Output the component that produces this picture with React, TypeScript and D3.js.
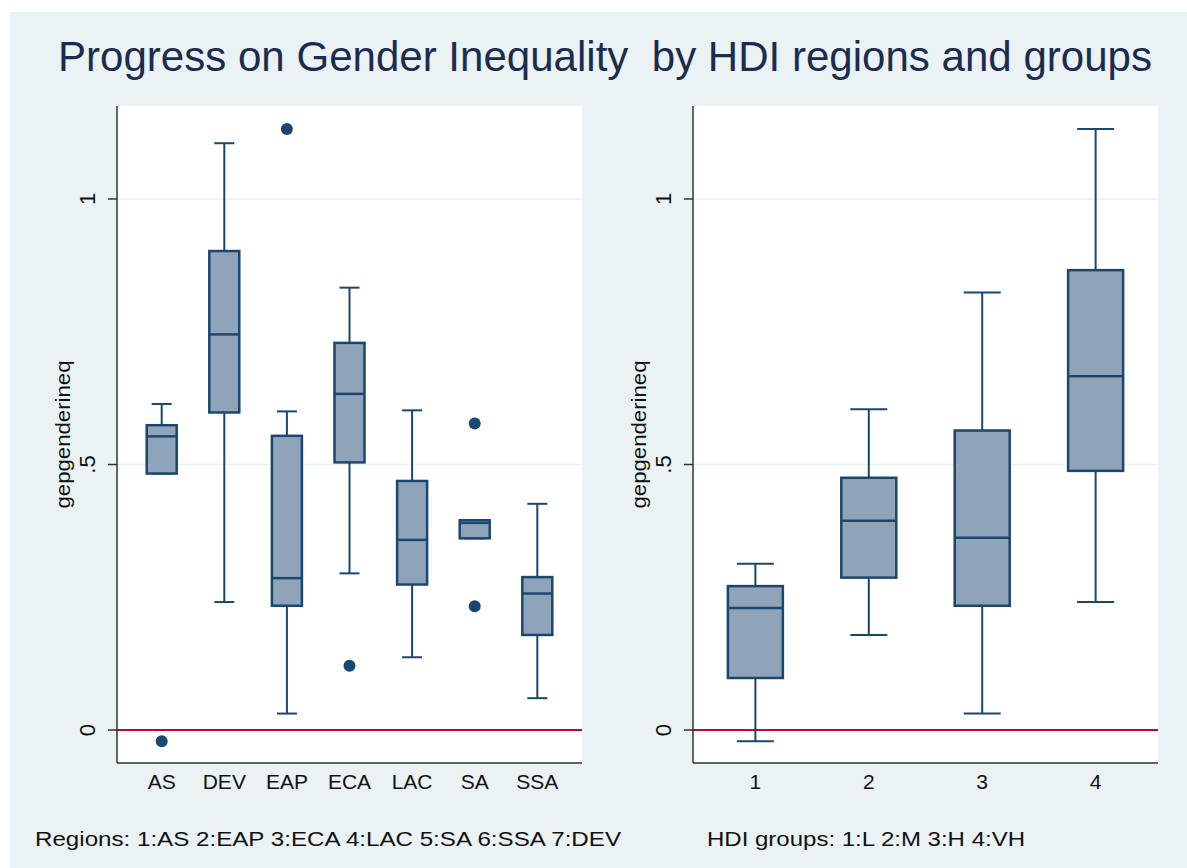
import React from "react";
import * as d3 from "d3";

const regions = ["AS", "DEV", "EAP", "ECA", "LAC", "SA", "SSA"];
const regionLowerWhisker = [0.483, 0.241, 0.031, 0.295, 0.137, 0.361, 0.06];
const regionQ1 = [0.483, 0.598, 0.234, 0.504, 0.274, 0.361, 0.179];
const regionMedian = [0.553, 0.745, 0.286, 0.633, 0.358, 0.39, 0.257];
const regionQ3 = [0.574, 0.902, 0.554, 0.729, 0.469, 0.395, 0.288];
const regionUpperWhisker = [0.614, 1.105, 0.6, 0.833, 0.602, 0.395, 0.426];
const regionOutliers = [[-0.021], [], [1.132], [0.121], [], [0.577, 0.233], []];

const hdiGroups = ["1", "2", "3", "4"];
const hdiLowerWhisker = [-0.021, 0.179, 0.031, 0.241];
const hdiQ1 = [0.098, 0.287, 0.234, 0.488];
const hdiMedian = [0.23, 0.394, 0.362, 0.666];
const hdiQ3 = [0.271, 0.475, 0.564, 0.866];
const hdiUpperWhisker = [0.313, 0.604, 0.824, 1.132];
const hdiOutliers: number[][] = [[], [], [], []];

const yTicks = [0, 0.5, 1];
const yTickLabels = ["0", ".5", "1"];

const titleText = "Progress on Gender Inequality  by HDI regions and groups";
const yTitle = "gepgenderineq";
const noteLeft = "Regions: 1:AS 2:EAP 3:ECA 4:LAC 5:SA 6:SSA 7:DEV";
const noteRight = "HDI groups: 1:L 2:M 3:H 4:VH";

const FONT = "Arial, 'Liberation Sans', Helvetica, sans-serif";
const BG = "#eaf2f3";
const BOX_FILL = "#8fa4b8";
const NAVY = "#1a476f";
const RED = "#c10534";

type PanelProps = {
  x0: number;
  x1: number;
  cats: string[];
  lw: number[];
  q1: number[];
  med: number[];
  q3: number[];
  uw: number[];
  out: number[][];
  padding: number;
  boxW: number;
  capW: number;
};

const yScale = d3.scaleLinear().domain([-0.0621, 1.1751]).range([763, 106]);

function Panel(p: PanelProps) {
  const top = 106;
  const bottom = 763;
  const x = d3.scalePoint<string>().domain(p.cats).range([p.x0, p.x1]).padding(p.padding);
  const y = yScale;
  return (
    <g>
      <rect x={p.x0} y={top} width={p.x1 - p.x0} height={bottom - top} fill="#ffffff" />
      {yTicks.map((t, i) => (
        <g key={"t" + i}>
          {t !== 0 && (
            <line x1={p.x0} x2={p.x1} y1={y(t)} y2={y(t)} stroke={BG} strokeWidth={1.6} />
          )}
          <line x1={p.x0 - 9} x2={p.x0} y1={y(t)} y2={y(t)} stroke="#333" strokeWidth={1.5} />
          <text
            transform={`translate(${p.x0 - 22},${y(t)}) rotate(-90)`}
            textAnchor="middle"
            fontFamily={FONT}
            fontSize={22}
            fill="#111"
          >
            {yTickLabels[i]}
          </text>
        </g>
      ))}
      <line x1={p.x0} x2={p.x1} y1={y(0)} y2={y(0)} stroke={RED} strokeWidth={2} />
      {p.cats.map((c, i) => {
        const cx = x(c) as number;
        return (
          <g key={c}>
            <line x1={cx} x2={cx} y1={y(p.q3[i])} y2={y(p.uw[i])} stroke={NAVY} strokeWidth={2} />
            <line x1={cx} x2={cx} y1={y(p.q1[i])} y2={y(p.lw[i])} stroke={NAVY} strokeWidth={2} />
            <line x1={cx - p.capW / 2} x2={cx + p.capW / 2} y1={y(p.uw[i])} y2={y(p.uw[i])} stroke={NAVY} strokeWidth={2} />
            <line x1={cx - p.capW / 2} x2={cx + p.capW / 2} y1={y(p.lw[i])} y2={y(p.lw[i])} stroke={NAVY} strokeWidth={2} />
            <rect
              x={cx - p.boxW / 2}
              y={y(p.q3[i])}
              width={p.boxW}
              height={y(p.q1[i]) - y(p.q3[i])}
              fill={BOX_FILL}
              stroke={NAVY}
              strokeWidth={2.5}
            />
            <line x1={cx - p.boxW / 2} x2={cx + p.boxW / 2} y1={y(p.med[i])} y2={y(p.med[i])} stroke={NAVY} strokeWidth={2.5} />
            {p.out[i].map((o, j) => (
              <circle key={j} cx={cx} cy={y(o)} r={6} fill={NAVY} />
            ))}
            <text x={cx} y={789} textAnchor="middle" fontFamily={FONT} fontSize={21} fill="#111">
              {c}
            </text>
          </g>
        );
      })}
      <line x1={p.x0} x2={p.x0} y1={top} y2={bottom} stroke="#333" strokeWidth={1.5} />
      <line x1={p.x0} x2={p.x1} y1={bottom} y2={bottom} stroke="#333" strokeWidth={1.5} />
      <text
        transform={`translate(${p.x0 - 47},${(top + bottom) / 2}) rotate(-90)`}
        textAnchor="middle"
        fontFamily={FONT}
        fontSize={20}
        textLength={148}
        lengthAdjust="spacingAndGlyphs"
        fill="#111"
      >
        {yTitle}
      </text>
    </g>
  );
}

export default function App() {
  return (
    <svg width={1187} height={868} style={{ position: "absolute", left: 0, top: 0 }}>
      <rect x={0} y={0} width={1187} height={868} fill="#ffffff" />
      <rect x={10} y={12} width={1177} height={856} fill={BG} />
      <text
        x={58}
        y={71}
        fontFamily={FONT}
        fontSize={43}
        fill="#1c2b50"
        textLength={1094}
        lengthAdjust="spacingAndGlyphs"
        style={{ whiteSpace: "pre" }}
      >
        {titleText}
      </text>
      <Panel
        x0={117}
        x1={582}
        cats={regions}
        lw={regionLowerWhisker}
        q1={regionQ1}
        med={regionMedian}
        q3={regionQ3}
        uw={regionUpperWhisker}
        out={regionOutliers}
        padding={0.714}
        boxW={30}
        capW={20}
      />
      <Panel
        x0={693}
        x1={1158}
        cats={hdiGroups}
        lw={hdiLowerWhisker}
        q1={hdiQ1}
        med={hdiMedian}
        q3={hdiQ3}
        uw={hdiUpperWhisker}
        out={hdiOutliers}
        padding={0.55}
        boxW={55}
        capW={37}
      />
      <text x={35} y={846} fontFamily={FONT} fontSize={20.5} fill="#111" textLength={586} lengthAdjust="spacingAndGlyphs">
        {noteLeft}
      </text>
      <text x={707} y={846} fontFamily={FONT} fontSize={20.5} fill="#111" textLength={318} lengthAdjust="spacingAndGlyphs">
        {noteRight}
      </text>
    </svg>
  );
}
